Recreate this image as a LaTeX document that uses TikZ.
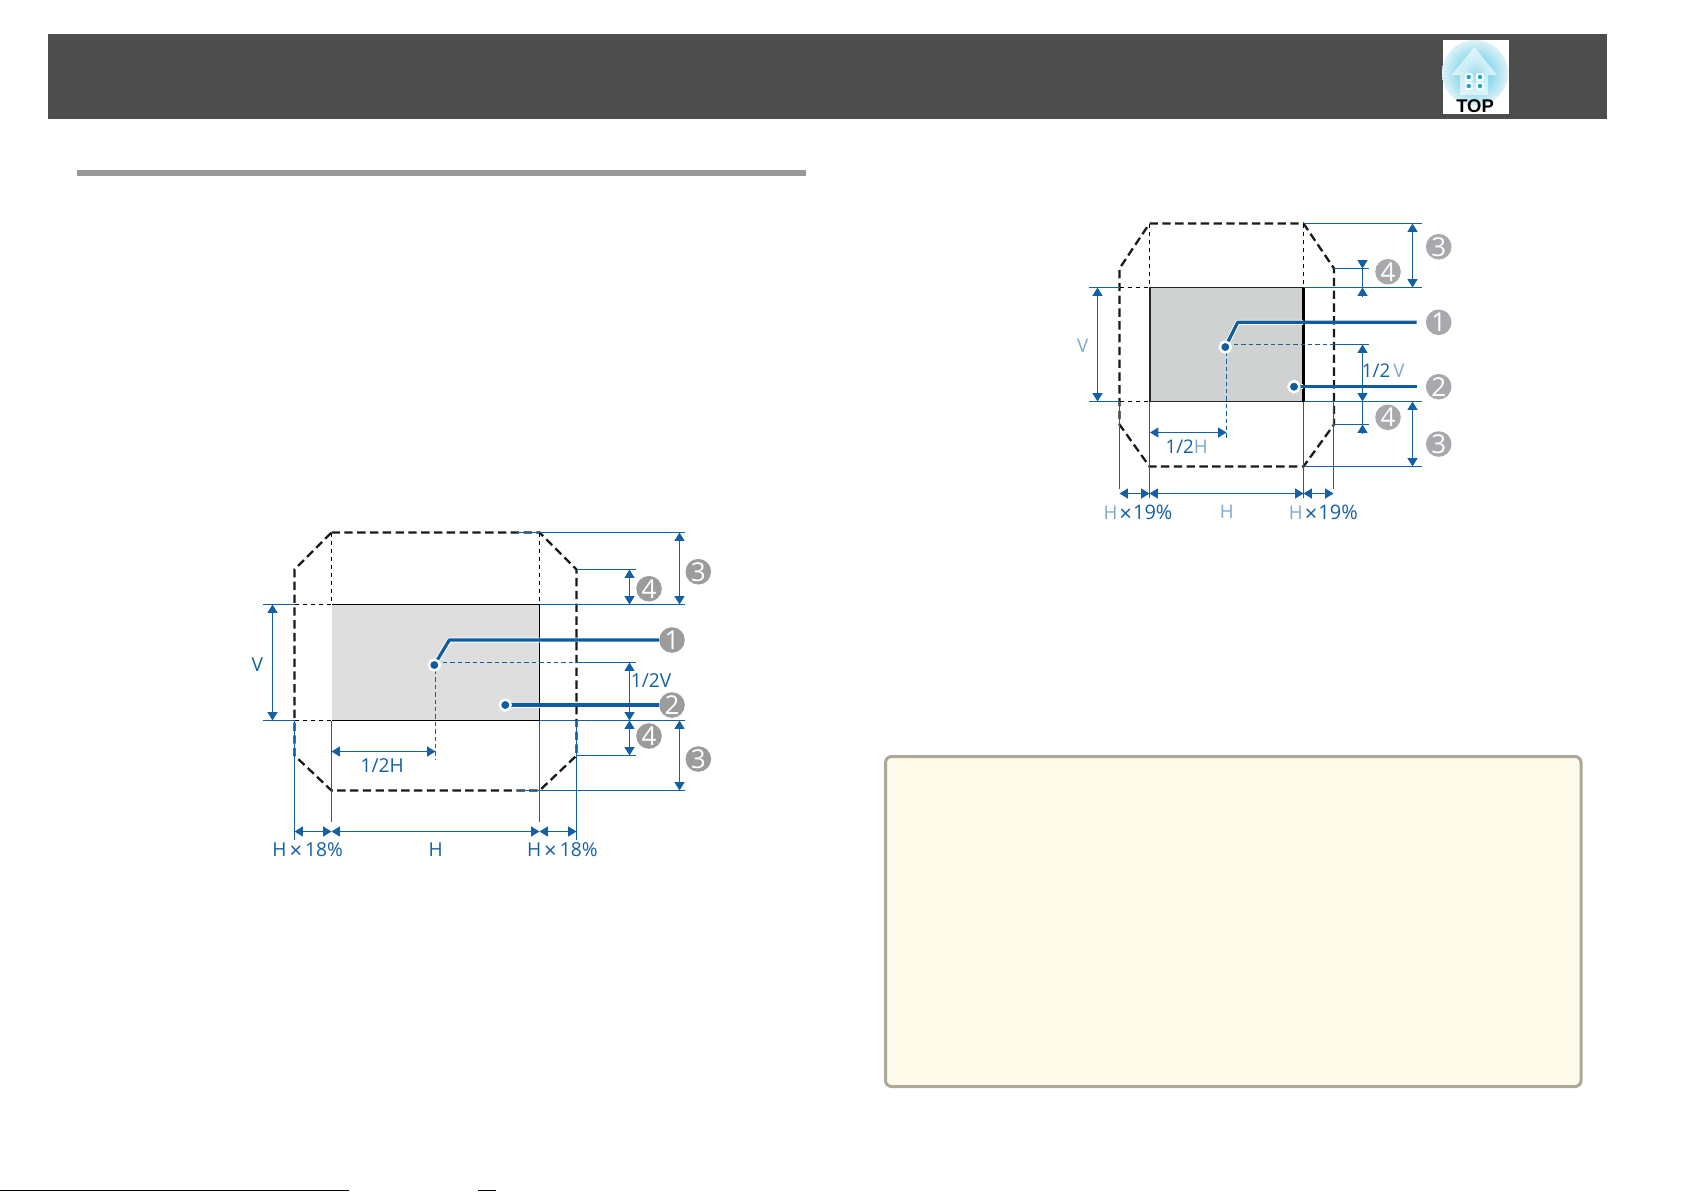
\documentclass[tikz,border=0pt]{standalone}
\usepackage{fontspec}
\setmainfont{Open Sans}
\newfontfamily\iconfont{Liberation Sans}
\usetikzlibrary{arrows.meta}
\definecolor{dimblue}{HTML}{1460A5}
\definecolor{leadblue}{HTML}{0F5C9E}
\definecolor{paleblue}{HTML}{7FA8CF}
\definecolor{headgrey}{HTML}{4D4D4D}
\definecolor{numgrey}{HTML}{9C9C9C}
\definecolor{numgreyb}{HTML}{A7A9AC}
\definecolor{rectgrey}{HTML}{DDDEDD}
\definecolor{rectgreyb}{HTML}{D0D2D1}
\definecolor{rulegrey}{HTML}{99999B}
\definecolor{notefill}{HTML}{FFFBEA}
\definecolor{noteedge}{HTML}{ACA899}
\definecolor{iconcyan}{HTML}{10AAD0}
\definecolor{iconmid}{HTML}{7CD3E8}
\definecolor{iconpale}{HTML}{DDF2F8}
\pgfdeclareradialshading{iconglow}{\pgfpoint{0bp}{0bp}}{
  color(0bp)=(iconcyan); color(9bp)=(iconmid); color(25bp)=(iconpale); color(50bp)=(iconpale)}
\tikzset{
  dim/.style={draw=dimblue,line width=0.55pt},
  dimarrow/.style={dim,{Triangle[length=4.2pt,width=5pt]}-{Triangle[length=4.2pt,width=5pt]}},
  dimtip/.style={dim,-{Triangle[length=4.2pt,width=5pt]}},
  dimdash/.style={dim,line width=0.45pt,dash pattern=on 2.2pt off 1.5pt},
  thindash/.style={black,line width=0.45pt,dash pattern=on 2.4pt off 1.6pt},
  outline/.style={black!90,line width=1.15pt,dash pattern=on 4.2pt off 2.2pt},
  leader/.style={leadblue,line width=1.6pt,line join=round},
  halo/.style={white,line width=2.5pt,line join=round},
  num/.style={circle,fill=numgrey,text=white,inner sep=0pt,minimum size=12.8pt,font=\fontsize{13}{13}\selectfont},
  numb/.style={num,fill=numgreyb},
  lab/.style={text=dimblue,inner sep=0pt,font=\fontsize{9.6}{11}\selectfont},
  labb/.style={lab,font=\fontsize{9.4}{11}\selectfont},
  pin/.style={circle,fill=leadblue,draw=white,line width=1.2pt,inner sep=0pt,minimum size=5.4pt}
}
\newcommand{\bigx}{\raisebox{-0.7pt}{\fontsize{11}{11}\selectfont ×}}
\begin{document}
\begin{tikzpicture}[x=0.5pt,y=-0.5pt]
\useasboundingbox (0,0) rectangle (1685,1191);
\fill[headgrey] (48,34) rectangle (1607,119);
\fill[rulegrey] (76.7,170) rectangle (806,176);
\draw[black,line width=0.6pt] (0,1190.5) -- (349,1190.5);
\draw[black,line width=0.6pt] (478,1190.5) -- (496,1190.5);
\draw[noteedge,line width=1.5pt,fill=notefill,rounded corners=3pt] (885.5,756.5) rectangle (1581,1086.5);

\fill[white] (1443,40) rectangle (1509,114);
\shade[shading=iconglow] (1475,73) circle (33);
\fill[white,opacity=0.6] (1474.3,47) -- (1497,75) -- (1488,75) -- (1488,95) -- (1460,95) -- (1460,75) -- (1451.7,75) -- cycle;
\foreach \wx in {1468.7,1480}
  \foreach \wy in {77,86}{
    \fill[white,rounded corners=1pt] (\wx-4,\wy-4) rectangle (\wx+4,\wy+4);
    \fill[iconcyan] (\wx,\wy) circle (2.2);
  }
\node(toplabel) at (1475,106) [inner sep=0pt,font=\iconfont\bfseries\fontsize{9.2}{10}\selectfont] {TOP};

\fill[rectgrey] (331.5,604.5) rectangle (539.5,720.5);
\draw[black,line width=0.55pt] (331.5,720.5) -- (539.5,720.5) -- (539.5,604.5) -- (331.5,604.5);
\coordinate(a1) at (331.5,532.5);
\coordinate(a2) at (539.5,532.5);
\coordinate(a3) at (576.5,569.5);
\coordinate(a4) at (576.5,755.5);
\coordinate(a5) at (539.5,790.5);
\coordinate(a6) at (331.5,790.5);
\coordinate(a7) at (294.5,755.5);
\coordinate(a8) at (294.5,569.5);
\draw[outline] (a1)--(a2)--(a3)--(a4)--(a5)--(a6)--(a7)--(a8)--cycle;
\draw[thindash] (a1)--(331.5,604.5);
\draw[thindash] (a2)--(539.5,604.5);
\draw[thindash] (294.5,604.5)--(331.5,604.5);
\draw[thindash] (294.5,720.5)--(331.5,720.5);
\coordinate(amid) at (435.5,662.5);
\draw[dimdash] (amid)--(576.5,662.5);
\draw[dim] (576.5,662.5)--(635.5,662.5);
\draw[dimdash] (amid)--(435.5,759.5);
\draw[dim] (262.5,604.5)--(294.5,604.5);
\draw[dim] (262.5,720.5)--(294.5,720.5);
\draw[dim] (539.5,604.5)--(685,604.5);
\draw[dim] (539.5,720.5)--(685,720.5);
\draw[dim] (516.5,532.5)--(685,532.5);
\draw[dim] (516.5,790.5)--(685,790.5);
\draw[dim] (a3)--(635.5,569.5);
\draw[dim] (a4)--(635.5,755.5);
\draw[dim] (294.5,720.5)--(294.5,840);
\draw[dim] (331.5,720.5)--(331.5,821.5);
\draw[dim] (539.5,720.5)--(539.5,821.5);
\draw[dim] (576.5,720.5)--(576.5,840);
\draw[dimarrow] (679.5,532.5)--(679.5,604.5);
\draw[dimarrow] (679.5,720.5)--(679.5,790.5);
\draw[dimarrow] (629.5,569.5)--(629.5,604.5);
\draw[dimarrow] (629.5,720.5)--(629.5,755.5);
\draw[dimarrow] (629.5,662.5)--(629.5,720.5);
\draw[dimarrow] (272.5,604.5)--(272.5,720.5);
\draw[dimarrow] (331.5,751.5)--(435.5,751.5);
\draw[dimarrow] (294.5,831.5)--(331.5,831.5);
\draw[dimarrow] (331.5,831.5)--(539.5,831.5);
\draw[dimarrow] (539.5,831.5)--(576.5,831.5);
\node(av) at (257.3,664.3) [lab] {V};
\node(ahalfv) at (651,680.7) [lab] {1/2V};
\node(ahalfh) at (382.3,766) [lab] {1/2H};
\node(ah) at (435.7,850) [lab] {H};
\node(ahl) at (307.7,850.7) [lab] {H\hspace{1.5pt}\bigx\hspace{1.5pt}18\%};
\node(ahr) at (562.3,850.7) [lab] {H\hspace{1.5pt}\bigx\hspace{1.5pt}18\%};
\node(an1) at (672,640) [num] {1};
\node(an2) at (672,705) [num] {2};
\node(an3) at (698.3,571.7) [num] {3};
\node(an4) at (649,588.7) [num] {4};
\node(an5) at (649,736) [num] {4};
\node(an6) at (698.3,759) [num] {3};
\coordinate(abend) at (449.3,640);
\node(apin1) at (434.3,665) [pin] {};
\node(apin2) at (505.3,705) [pin] {};
\draw[halo] (apin1)--(abend)--(539.5,640);
\draw[halo] (apin2)--(539.5,705);
\draw[leader] (apin1.center)--(abend)--(an1);
\draw[leader] (apin2.center)--(an2);
\node at (apin1) [pin] {};
\node at (apin2) [pin] {};

\fill[rectgreyb] (1150,287.5) rectangle (1303.5,401.5);
\draw[black!85,line width=0.6pt] (1303.5,401.5) -- (1150,401.5) -- (1150,287.5) -- (1303.5,287.5);
\draw[black,line width=1.2pt] (1303.5,287.5) -- (1303.5,401.5);
\coordinate(b1) at (1149.5,223.5);
\coordinate(b2) at (1303.5,223.5);
\coordinate(b3) at (1334,268.5);
\coordinate(b4) at (1334,424.5);
\coordinate(b5) at (1303.5,466.5);
\coordinate(b6) at (1149.5,466.5);
\coordinate(b7) at (1119.5,424.5);
\coordinate(b8) at (1119.5,268.5);
\draw[outline] (b1)--(b2)--(b3)--(b4)--(b5)--(b6)--(b7)--(b8)--cycle;
\draw[thindash] (b1)--(1149.5,287.5);
\draw[thindash] (b2)--(1303.5,287.5);
\draw[thindash] (1119.5,287.5)--(1150,287.5);
\draw[thindash] (1119.5,401.5)--(1150,401.5);
\coordinate(bmid) at (1226.5,344.5);
\draw[dimdash] (bmid)--(1334,344.5);
\draw[dim] (1334,344.5)--(1369,344.5);
\draw[dimdash] (bmid)--(1226.5,440);
\draw[dim] (1088.5,287.5)--(1119.5,287.5);
\draw[dim] (1088.5,401.5)--(1119.5,401.5);
\draw[dim] (1303.5,287.5)--(1422,287.5);
\draw[dim] (1303.5,401.5)--(1422,401.5);
\draw[dim] (b2)--(1422,223.5);
\draw[dim] (b5)--(1422,466.5);
\draw[dim] (b3)--(1369,268.5);
\draw[dim] (b4)--(1369,424.5);
\draw[dim] (1119.5,401.5)--(1119.5,489);
\draw[dim] (1149.5,401.5)--(1149.5,498);
\draw[dim] (1303.5,401.5)--(1303.5,498);
\draw[dim] (1333.5,401.5)--(1333.5,489);
\draw[dimarrow] (1412.5,223.5)--(1412.5,287.5);
\draw[dimarrow] (1412.5,401.5)--(1412.5,466.5);
\draw[dimtip] (1362.5,259.5)--(1362.5,268.5);
\draw[dim] (1362.5,268.5)--(1362.5,287.5);
\draw[dimtip] (1362.5,296.5)--(1362.5,287.5);
\draw[dimarrow] (1362.5,344.5)--(1362.5,401.5);
\draw[dimtip] (1362.5,433.5)--(1362.5,424.5);
\draw[dim] (1362.5,401.5)--(1362.5,424.5);
\draw[dimarrow] (1097.5,287.5)--(1097.5,401.5);
\draw[dimarrow] (1150,432.5)--(1226.5,432.5);
\draw[dimarrow] (1119.5,493.5)--(1149.5,493.5);
\draw[dimarrow] (1149.5,493.5)--(1303.5,493.5);
\draw[dimarrow] (1303.5,493.5)--(1333.5,493.5);
\node(bv) at (1082.7,345.3) [labb,text=paleblue] {V};
\node(bhalfv) at (1383.3,371) [labb] {1/2\,\textcolor{paleblue}{V}};
\node(bhalfh) at (1186.7,446.7) [labb] {1/2\textcolor{paleblue}{H}};
\node(bh) at (1226.7,512) [labb,text=paleblue] {H};
\node(bhl) at (1138,513.3) [labb] {\textcolor{paleblue}{H}\hspace{1pt}\bigx\hspace{0.5pt}{\fontsize{10}{11}\selectfont 19\%}};
\node(bhr) at (1323.3,513.3) [labb] {\textcolor{paleblue}{H}\hspace{1pt}\bigx\hspace{0.5pt}{\fontsize{10}{11}\selectfont 19\%}};
\node(bn1) at (1438.7,322.3) [numb] {1};
\node(bn2) at (1438.7,386.7) [numb] {2};
\node(bn3) at (1438.7,246.7) [numb] {3};
\node(bn4) at (1388,271.7) [numb] {4};
\node(bn5) at (1388,417.3) [numb] {4};
\node(bn6) at (1438.7,444) [numb] {3};
\coordinate(bbend) at (1237.7,322.3);
\coordinate(bend1) at (1416.7,322.3);
\coordinate(bend2) at (1416.7,386.7);
\node(bpin1) at (1225.3,347) [pin] {};
\node(bpin2) at (1294,386.7) [pin] {};
\draw[halo] (bpin1)--(bbend)--(1303,322.3);
\draw[halo] (bpin2)--(1303,386.7);
\draw[leader] (bpin1.center)--(bbend)--(bend1);
\draw[leader] (bpin2.center)--(bend2);
\node at (bpin1) [pin] {};
\node at (bpin2) [pin] {};
\end{tikzpicture}
\end{document}
